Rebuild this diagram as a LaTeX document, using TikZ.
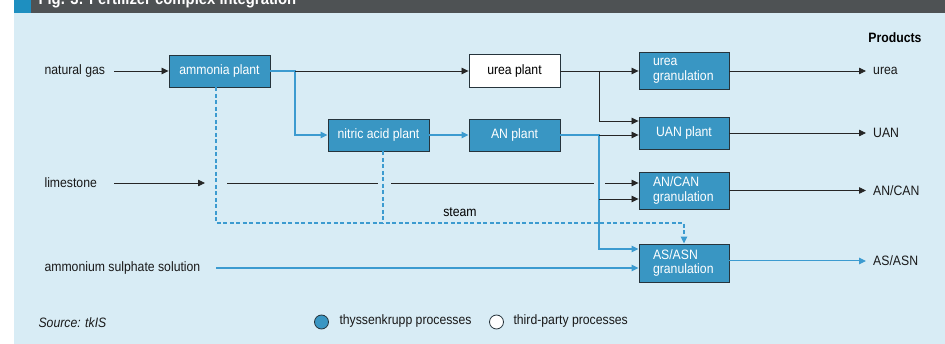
\documentclass[tikz,border=0pt]{standalone}
\usepackage{fontspec}
\setmainfont{Liberation Sans}[FakeStretch=0.9]
\usetikzlibrary{arrows.meta,calc}
\definecolor{bgblue}{HTML}{D8ECF5}
\definecolor{tkblue}{HTML}{3996C3}
\definecolor{lineblue}{HTML}{3C9BD0}
\definecolor{bargrey}{HTML}{4E5254}
\definecolor{barblue}{HTML}{1E8FC0}
\definecolor{boxline}{HTML}{26343C}
\newcommand\basefont{\fontsize{13.6}{14.6}\selectfont}

\begin{document}
\begin{tikzpicture}[x=1pt,y=-1pt,font=\basefont,
  box/.style={draw=boxline,fill=tkblue,text=white,line width=0.9pt,inner sep=0pt,minimum height=32pt,minimum width=91pt},
  granbox/.style={box,minimum height=37pt,minimum width=90pt,align=left,text width=62pt},
  flow/.style={draw=black!85,line width=0.8pt,-{Triangle[length=7pt,width=6.5pt]}},
  bflow/.style={draw=lineblue,line width=1.3pt,-{Triangle[length=7pt,width=6.5pt]}},
  steamline/.style={draw=lineblue,line width=1.3pt,dash pattern=on 4pt off 2.5pt},
  lbl/.style={anchor=west,text=black!90},
  outlbl/.style={anchor=west,inner xsep=7pt,text=black!90},
  legdot/.style={circle,draw=boxline,line width=0.8pt,inner sep=0pt,minimum size=14pt}]
\useasboundingbox (0,0) rectangle (945,344);
\clip (0,0) rectangle (945,344);
\fill[bgblue] (14,13) rectangle (945,344);
\fill[bargrey] (31,0) rectangle (945,13); \fill[barblue] (14,0) rectangle (31,13);
\node[anchor=base west,text=white,font=\bfseries\fontsize{16.5}{18}\selectfont] (title) at (35,4.5) {Fig. 3: Fertilizer complex integration};

\node[box,minimum width=101pt] (ammonia) at (219.5,71) {ammonia plant};
\node[box,minimum width=101pt] (nitric) at (378.5,135) {nitric acid plant};
\node[box,fill=white,text=black,minimum height=33pt] (ureap) at (514.5,71) {urea plant};
\node[box] (anp) at (514.5,135) {AN plant};
\node[granbox] (ureag) at (684,71) {urea\\granulation};
\node[box,minimum width=90pt] (uan) at (684,133) {UAN plant};
\node[granbox] (ancan) at (684,190.5) {AN/CAN\\granulation};
\node[granbox,minimum height=38pt] (asasn) at (684,263) {AS/ASN\\granulation};

\node[lbl] (gas) at (41,71) {natural gas};
\node[lbl] (lime) at (41,183) {limestone};
\node[lbl] (sulph) at (41,268) {ammonium sulphate solution};
\node[anchor=east,font=\bfseries\basefont] (products) at (925,38) {Products};
\node[outlbl] (ourea) at (866,71) {urea};
\node[outlbl] (ouan) at (866,133) {UAN};
\node[outlbl] (oancan) at (866,190.5) {AN/CAN};
\node[outlbl] (oasasn) at (866,261) {AS/ASN};
\node (steam) at (460,212) {steam};

\coordinate (g0) at (114,71); \coordinate (ja) at (295,71); \coordinate (ju) at (599,71); \coordinate (jb) at (599,135);
\coordinate (jc) at (599,199); \coordinate (a0) at (216,268); \coordinate (s1) at (216,223); \coordinate (s2) at (383,223);
\coordinate (l0) at (114,183); \coordinate (l1) at (205,183); \coordinate (l2) at (227,183); \coordinate (l3) at (378,183);
\coordinate (l4) at (391,183); \coordinate (l5) at (594,183); \coordinate (l6) at (605,183);

\draw[steamline,-{Triangle[length=7pt,width=6.5pt]}] (ammonia.south -| s1) |- (asasn.north |- s1) -- (asasn.north);
\draw[steamline] (nitric.south -| s2) -- (s2);
\draw[flow] (g0) -- (ammonia.west);
\draw[bflow] (ammonia.east) -- (ja) |- (nitric.west);
\draw[flow] (ja) -- (ureap.west);
\draw[bflow] (nitric.east) -- (anp.west);
\draw[flow] (ureap.east) -- (ureag.west);
\draw[flow] (ju) |- ([yshift=12pt]uan.west);
\draw[bflow] (anp.east) -- (jb) |- ([yshift=14pt]asasn.west);
\draw[flow] (jb) -- ([yshift=-2pt]uan.west);
\draw[flow] (jc) -- ([yshift=-8.5pt]ancan.west);
\draw[flow] (l0) -- (l1); \draw[draw=black!85,line width=0.8pt] (l2) -- (l3) (l4) -- (l5);
\draw[flow] (l6) -- ([yshift=7.5pt]ancan.west);
\draw[bflow] (a0) -- ([yshift=-5pt]asasn.west);
\draw[flow] (ureag.east) -- (ourea.west);
\draw[flow] (uan.east) -- (ouan.west);
\draw[flow] (ancan.east) -- (oancan.west);
\draw[bflow,line width=1pt] ([yshift=2pt]asasn.east) -- (oasasn.west);

\node[lbl,font=\basefont\itshape] (source) at (35,323) {Source: tkIS};
\node[legdot,fill=tkblue] (dottk) at (321.5,322) {};
\node[lbl] (legtk) at (336,321) {thyssenkrupp processes};
\node[legdot,fill=white] (dot3p) at (496.5,322) {};
\node[lbl] (leg3p) at (510,321) {third-party processes};
\end{tikzpicture}
\end{document}
